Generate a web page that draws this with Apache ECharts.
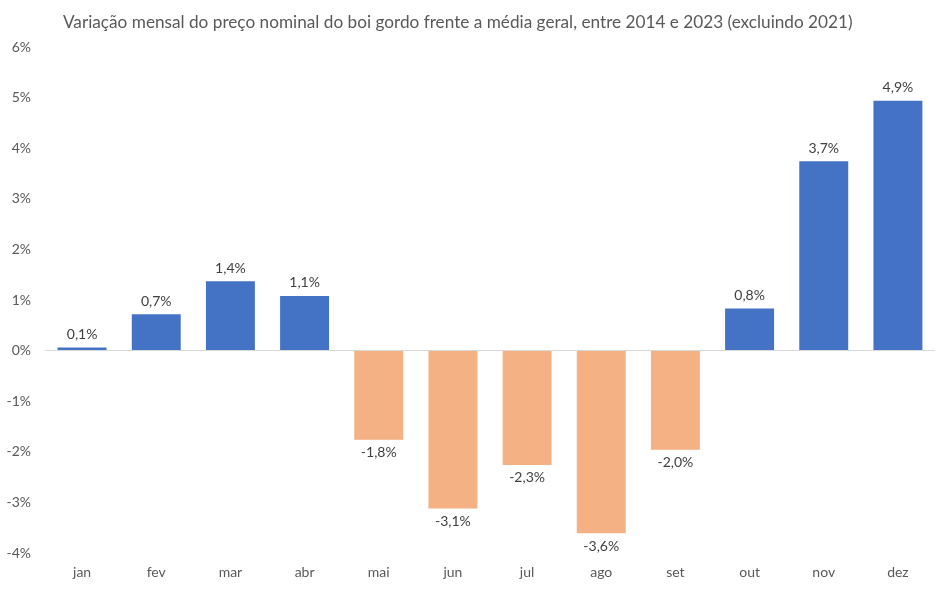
<!DOCTYPE html>
<html><head><meta charset="utf-8">
<script src="https://cdn.jsdelivr.net/npm/echarts@6/dist/echarts.min.js"></script>
<style>html,body{margin:0;padding:0;background:#fff}#c{width:948px;height:589px}</style>
</head><body><div id="c"></div>
<script>
const titleText = 'Variação mensal do preço nominal do boi gordo frente a média geral, entre 2014 e 2023 (excluindo 2021)';
const months = ['jan','fev','mar','abr','mai','jun','jul','ago','set','out','nov','dez'];
const values = [0.06, 0.72, 1.37, 1.08, -1.76, -3.12, -2.26, -3.61, -1.96, 0.83, 3.74, 4.94];
const posColor = '#4472C4';
const negColor = '#F4B183';
const fontFam = 'Lato, "Open Sans", sans-serif';

const chart = echarts.init(document.getElementById('c'));
chart.setOption({
  animation: false,
  title: {text: titleText, left: 58, top: 9, textStyle: {fontFamily: fontFam, fontSize: 17.2, fontWeight: 'normal', color: '#595959'}},
  grid: {left: 45, right: 13, top: 47, bottom: 36},
  xAxis: {type: 'category', data: months,
    axisLine: {show: false}, axisTick: {show: false},
    axisLabel: {fontFamily: fontFam, fontSize: 14, color: '#595959', margin: 12}},
  yAxis: {type: 'value', min: -4, max: 6, interval: 1,
    splitLine: {show: false}, axisLine: {show: false}, axisTick: {show: false},
    axisLabel: {fontFamily: fontFam, fontSize: 14, color: '#595959', margin: 14, formatter: v => v + '%'}},
  series: [{
    type: 'bar', barWidth: '66%',
    data: values.map(v => ({value: v, itemStyle: {color: v >= 0 ? posColor : negColor},
      label: {position: v >= 0 ? 'top' : 'bottom'}})),
    label: {show: true, fontFamily: fontFam, fontSize: 14, color: '#404040', distance: 6,
      formatter: p => p.value.toFixed(1).replace('.', ',') + '%'},
    markLine: {silent: true, symbol: 'none', label: {show: false},
      lineStyle: {color: '#D9D9D9', type: 'solid', width: 1},
      data: [{yAxis: 0}]}
  }]
});
</script></body></html>
